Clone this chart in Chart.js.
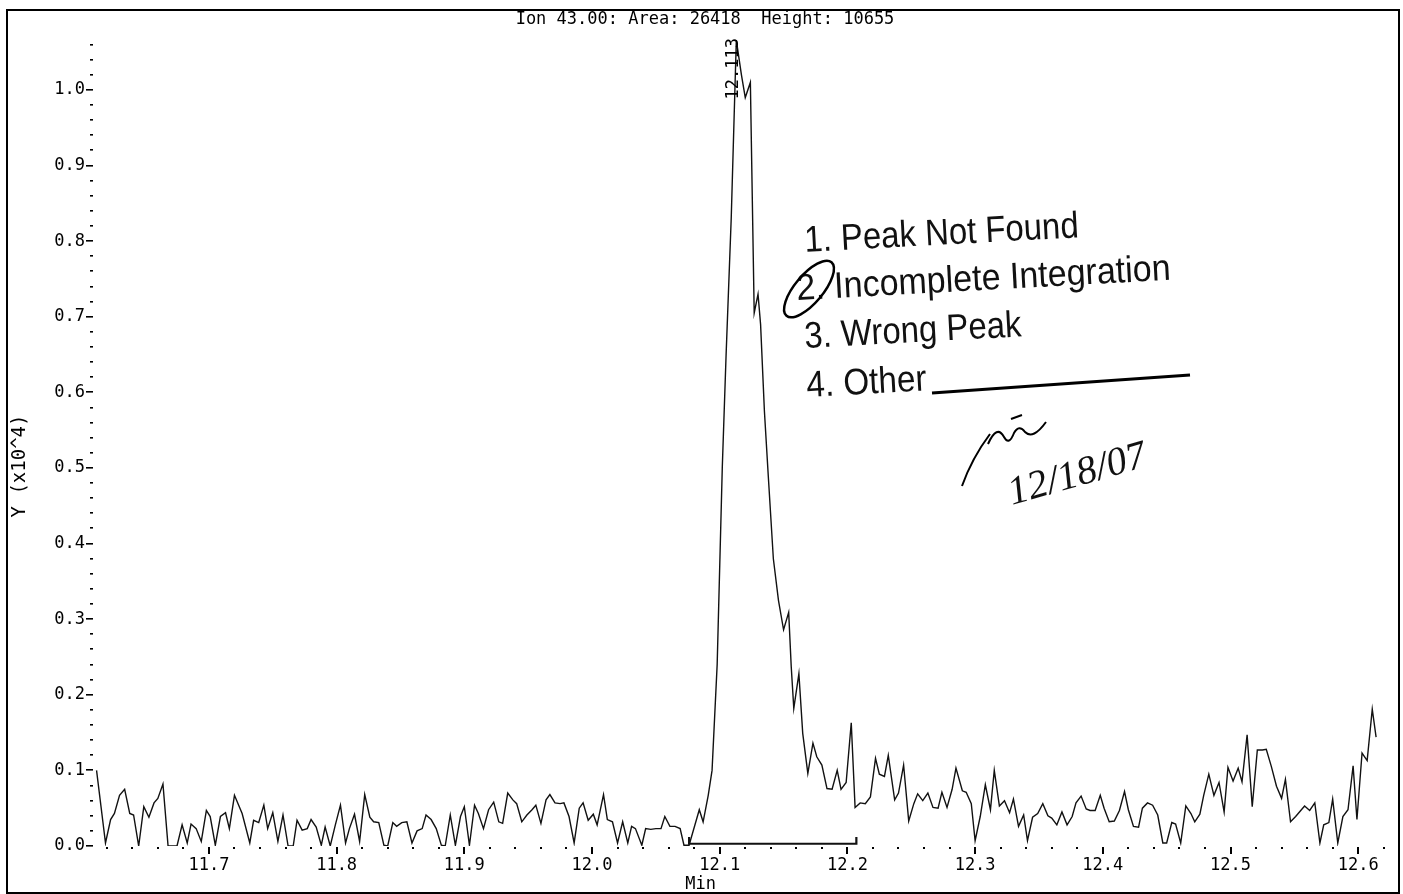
<!DOCTYPE html>
<html>
<head>
<meta charset="utf-8">
<title>Ion 43.00</title>
<script src="https://cdn.jsdelivr.net/npm/chart.js@4.4.1/dist/chart.umd.min.js"></script>
<style>
  html, body { margin: 0; padding: 0; background: #fff; }
</style>
</head>
<body>
<canvas id="ionChart" width="1403" height="894"></canvas>
<script>
// retention time (min) of each scan
const scanTimes = [
  11.612, 11.619, 11.623, 11.626, 11.630, 11.634, 11.638, 11.641, 11.645, 11.649,
  11.653, 11.657, 11.660, 11.664, 11.668, 11.672, 11.675, 11.679, 11.683, 11.686,
  11.690, 11.694, 11.698, 11.701, 11.705, 11.709, 11.713, 11.716, 11.720, 11.726,
  11.732, 11.735, 11.739, 11.743, 11.746, 11.750, 11.754, 11.758, 11.762, 11.766,
  11.769, 11.773, 11.777, 11.780, 11.784, 11.788, 11.791, 11.795, 11.799, 11.803,
  11.807, 11.810, 11.814, 11.818, 11.822, 11.826, 11.829, 11.833, 11.837, 11.840,
  11.844, 11.847, 11.851, 11.855, 11.859, 11.863,
  11.867, 11.870, 11.874, 11.878, 11.882, 11.885, 11.889, 11.893, 11.897, 11.900,
  11.904, 11.908, 11.911, 11.915, 11.919, 11.923, 11.927, 11.930, 11.934, 11.938,
  11.941, 11.945, 11.949, 11.953, 11.956, 11.960, 11.964, 11.967, 11.971, 11.975,
  11.978, 11.982, 11.986, 11.990, 11.993, 11.997, 12.001, 12.004, 12.009, 12.012,
  12.016, 12.020, 12.024, 12.028, 12.031, 12.034, 12.039, 12.042, 12.046, 12.050,
  12.054, 12.057, 12.061, 12.065, 12.069, 12.072, 12.076, 12.084, 12.087, 12.091,
  12.094, 12.098, 12.102, 12.105, 12.109, 12.113, 12.117, 12.120, 12.124, 12.127,
  12.130, 12.132, 12.135, 12.138, 12.142, 12.146,
  12.150, 12.154, 12.156, 12.158, 12.162, 12.165, 12.169, 12.173, 12.176, 12.180,
  12.184, 12.188, 12.192, 12.195, 12.199, 12.203, 12.206, 12.210, 12.214, 12.218,
  12.222, 12.225, 12.229, 12.232, 12.237, 12.240, 12.244, 12.248, 12.252, 12.255,
  12.259, 12.263, 12.267, 12.271, 12.274, 12.278, 12.282, 12.285, 12.290, 12.293,
  12.297, 12.300, 12.304, 12.308, 12.312, 12.315, 12.319, 12.323, 12.327, 12.330,
  12.334, 12.338, 12.341, 12.345, 12.349, 12.353, 12.357, 12.360, 12.364, 12.368,
  12.372, 12.376, 12.379, 12.383, 12.387, 12.390, 12.394, 12.398, 12.401, 12.405,
  12.409, 12.413, 12.417, 12.420, 12.424, 12.428, 12.431, 12.435, 12.439, 12.443,
  12.447, 12.450, 12.454, 12.457, 12.461, 12.465, 12.469, 12.472, 12.476, 12.479,
  12.483, 12.487, 12.491, 12.495, 12.498, 12.502, 12.506, 12.509, 12.513, 12.517,
  12.521, 12.525, 12.528, 12.532, 12.536, 12.540, 12.543, 12.547, 12.551, 12.555,
  12.558, 12.562, 12.566, 12.570, 12.573, 12.577, 12.580, 12.584, 12.588, 12.592,
  12.596, 12.599, 12.603, 12.607, 12.611, 12.614
];

// ion 43 abundance, units of 10^4
const abundance = [
  0.100, 0.004, 0.035, 0.043, 0.067, 0.075, 0.043, 0.041, 0.000, 0.052,
  0.038, 0.057, 0.063, 0.082, 0.000, 0.000, 0.000, 0.028, 0.004, 0.029,
  0.023, 0.006, 0.047, 0.039, 0.001, 0.039, 0.044, 0.023, 0.067, 0.043,
  0.004, 0.034, 0.031, 0.054, 0.023, 0.044, 0.006, 0.041, 0.000, 0.000,
  0.034, 0.021, 0.023, 0.035, 0.025, 0.001, 0.025, 0.000, 0.028, 0.054,
  0.004, 0.023, 0.042, 0.006, 0.068, 0.038, 0.032, 0.031, 0.001, 0.000,
  0.031, 0.026, 0.031, 0.032, 0.004, 0.020,
  0.023, 0.041, 0.035, 0.023, 0.001, 0.000, 0.041, 0.001, 0.039, 0.052,
  0.001, 0.054, 0.043, 0.023, 0.048, 0.058, 0.032, 0.030, 0.070, 0.061,
  0.056, 0.032, 0.041, 0.048, 0.054, 0.030, 0.061, 0.068, 0.057, 0.056,
  0.057, 0.039, 0.004, 0.050, 0.057, 0.034, 0.042, 0.028, 0.068, 0.035,
  0.032, 0.004, 0.032, 0.004, 0.026, 0.023, 0.001, 0.023, 0.022, 0.023,
  0.023, 0.039, 0.026, 0.026, 0.023, 0.001, 0.001, 0.048, 0.032, 0.067,
  0.100, 0.240, 0.500, 0.650, 0.830, 1.066, 1.020, 0.990, 1.010, 0.705,
  0.730, 0.690, 0.575, 0.490, 0.380, 0.325,
  0.286, 0.309, 0.237, 0.182, 0.228, 0.149, 0.096, 0.136, 0.118, 0.107,
  0.076, 0.075, 0.100, 0.075, 0.084, 0.163, 0.051, 0.057, 0.056, 0.065,
  0.116, 0.095, 0.092, 0.120, 0.061, 0.070, 0.107, 0.033, 0.056, 0.069,
  0.060, 0.070, 0.051, 0.050, 0.071, 0.051, 0.075, 0.103, 0.073, 0.071,
  0.056, 0.007, 0.039, 0.081, 0.048, 0.100, 0.053, 0.060, 0.044, 0.062,
  0.026, 0.041, 0.007, 0.038, 0.043, 0.056, 0.040, 0.037, 0.028, 0.045,
  0.028, 0.039, 0.057, 0.066, 0.049, 0.047, 0.047, 0.067, 0.050, 0.032,
  0.033, 0.047, 0.072, 0.048, 0.026, 0.025, 0.050, 0.057, 0.054, 0.041,
  0.004, 0.004, 0.031, 0.029, 0.004, 0.053, 0.043, 0.032, 0.042, 0.067,
  0.095, 0.067, 0.084, 0.045, 0.104, 0.086, 0.103, 0.085, 0.147, 0.052,
  0.127, 0.127, 0.128, 0.105, 0.079, 0.063, 0.088, 0.032, 0.039, 0.047,
  0.053, 0.047, 0.057, 0.004, 0.028, 0.031, 0.062, 0.004, 0.039, 0.048,
  0.106, 0.035, 0.123, 0.113, 0.181, 0.144
];

// integration baseline drawn under the peak
const baselineTimes = [12.076, 12.076, 12.207, 12.207];
const baselineValues = [0.012, 0.003, 0.003, 0.012];

const xTickLabels = ['11.7', '11.8', '11.9', '12.0', '12.1', '12.2', '12.3', '12.4', '12.5', '12.6'];
const yTickLabels = ['0.0', '0.1', '0.2', '0.3', '0.4', '0.5', '0.6', '0.7', '0.8', '0.9', '1.0'];

const titleText = 'Ion 43.00: Area: 26418  Height: 10655';
const peakLabel = '12.113';
const reviewNotes = ['1. Peak Not Found', '2. Incomplete Integration', '3. Wrong Peak', '4. Other'];
const reviewDate = '12/18/07';

function tenth(v, labels) {
  const s = v.toFixed(1);
  return Math.abs(v - parseFloat(s)) < 1e-6 && labels.indexOf(s) !== -1 ? s : '';
}

const chromDecor = {
  id: 'chromDecor',
  afterDraw: function(chart) {
    const ctx = chart.ctx;
    const area = chart.chartArea;
    const xs = chart.scales.x;
    const ys = chart.scales.y;
    ctx.save();
    ctx.fillStyle = '#000';
    ctx.strokeStyle = '#000';

    // tick marks (no axis lines on the original)
    xs.ticks.forEach(function(t) {
      const px = Math.round(xs.getPixelForValue(t.value));
      const major = tenth(t.value, xTickLabels) !== '';
      ctx.fillRect(px - 1, area.bottom + 1, 2, major ? 7 : 2);
    });
    ys.ticks.forEach(function(t) {
      if (t.value > 1.065) return;
      const py = Math.round(ys.getPixelForValue(t.value));
      const major = tenth(t.value, yTickLabels) !== '';
      if (major) ctx.fillRect(area.left - 8, py - 1, 7, 1.6);
      else ctx.fillRect(area.left - 4, py - 1, 3, 1.6);
    });

    // outer frame
    ctx.lineWidth = 2;
    ctx.strokeRect(7, 10, 1392, 883);

    // title and axis titles
    ctx.font = "17px 'DejaVu Sans Mono'";
    ctx.textAlign = 'center';
    ctx.textBaseline = 'middle';
    ctx.fillText(titleText, 705, 20);
    ctx.fillText('Min', xs.getPixelForValue(12.085), 885);
    ctx.save();
    ctx.translate(20, 466);
    ctx.rotate(-Math.PI / 2);
    ctx.font = "19px 'DejaVu Sans Mono'";
    ctx.fillText('Y (x10^4)', 0, 0);
    ctx.restore();

    // peak retention time label
    ctx.save();
    ctx.translate(xs.getPixelForValue(12.111), ys.getPixelForValue(1.028));
    ctx.rotate(-Math.PI / 2);
    ctx.font = "17px 'DejaVu Sans Mono'";
    ctx.fillText(peakLabel, 0, 0);
    ctx.restore();

    // review stamp
    ctx.fillStyle = '#111';
    ctx.textAlign = 'left';
    ctx.textBaseline = 'alphabetic';
    ctx.font = "37px 'Liberation Sans'";
    const notePos = [[805, 252, 0.89], [797, 300, 0.92], [805, 348, 0.89], [807, 397, 0.9]];
    reviewNotes.forEach(function(txt, i) {
      ctx.save();
      ctx.translate(notePos[i][0], notePos[i][1]);
      ctx.rotate(-3.1 * Math.PI / 180);
      ctx.scale(notePos[i][2], 1);
      ctx.fillText(txt, 0, 0);
      ctx.restore();
    });
    ctx.lineWidth = 3;
    ctx.beginPath();
    ctx.moveTo(932, 393);
    ctx.lineTo(1190, 375);
    ctx.stroke();

    // circled choice
    ctx.lineWidth = 2.5;
    ctx.beginPath();
    ctx.ellipse(809, 289, 35, 14, -50 * Math.PI / 180, 0, Math.PI * 2);
    ctx.stroke();

    // initials and date
    ctx.lineWidth = 2;
    ctx.beginPath();
    ctx.moveTo(962, 486);
    ctx.quadraticCurveTo(972, 458, 990, 434);
    ctx.moveTo(988, 444);
    ctx.quadraticCurveTo(997, 424, 1004, 437);
    ctx.quadraticCurveTo(1009, 446, 1014, 433);
    ctx.quadraticCurveTo(1019, 424, 1025, 432);
    ctx.quadraticCurveTo(1033, 440, 1046, 422);
    ctx.moveTo(1011, 419);
    ctx.lineTo(1022, 415);
    ctx.stroke();
    ctx.save();
    ctx.translate(1012, 505);
    ctx.rotate(-16 * Math.PI / 180);
    ctx.font = "italic 40px 'Liberation Serif'";
    ctx.fillText(reviewDate, 0, 0);
    ctx.restore();

    ctx.restore();
  }
};

document.addEventListener('DOMContentLoaded', function() {
  const tracePoints = scanTimes.map(function(t, i) { return { x: t, y: abundance[i] }; });
  const basePoints = baselineTimes.map(function(t, i) { return { x: t, y: baselineValues[i] }; });

  new Chart(document.getElementById('ionChart'), {
    type: 'scatter',
    data: {
      datasets: [
        {
          label: 'Ion 43.00',
          data: tracePoints,
          showLine: true,
          borderColor: '#111',
          borderWidth: 1.4,
          pointRadius: 0,
          tension: 0
        },
        {
          label: 'Baseline',
          data: basePoints,
          showLine: true,
          borderColor: '#111',
          borderWidth: 2.2,
          pointRadius: 0,
          tension: 0
        }
      ]
    },
    options: {
      responsive: false,
      animation: false,
      layout: { padding: { left: 0, right: 5.2, top: 29.5, bottom: 0 } },
      plugins: {
        legend: { display: false },
        tooltip: { enabled: false }
      },
      scales: {
        x: {
          type: 'linear',
          min: 11.61,
          max: 12.631,
          border: { display: false },
          grid: { display: false, drawTicks: false },
          ticks: {
            stepSize: 0.02,
            includeBounds: false,
            autoSkip: false,
            maxRotation: 0,
            padding: 9,
            color: '#000',
            font: { family: "'DejaVu Sans Mono'", size: 17 },
            callback: function(v) { return tenth(v, xTickLabels); }
          },
          afterFit: function(s) { s.height = 48; }
        },
        y: {
          min: 0,
          max: 1.08,
          border: { display: false },
          grid: { display: false, drawTicks: false },
          ticks: {
            stepSize: 0.02,
            includeBounds: false,
            autoSkip: false,
            padding: 9,
            color: '#000',
            font: { family: "'DejaVu Sans Mono'", size: 17 },
            callback: function(v) { return tenth(v, yTickLabels); }
          },
          afterFit: function(s) { s.width = 94; }
        }
      }
    },
    plugins: [chromDecor]
  });
});
</script>
</body>
</html>
